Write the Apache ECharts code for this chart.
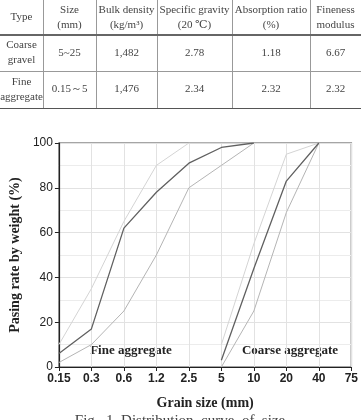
<!DOCTYPE html>
<html>
<head>
<meta charset="utf-8">
<script src="https://cdn.jsdelivr.net/npm/echarts@6/dist/echarts.min.js"></script>
<style>
  html, body { margin: 0; padding: 0; background: #fff; }
  #chart { width: 361px; height: 420px; }
</style>
</head>
<body>
<div id="chart"></div>
<script>
// sieve sizes (mm)
const sizes = ['0.15', '0.3', '0.6', '1.2', '2.5', '5', '10', '20', '40', '75'];

// fine aggregate: lower limit, measured, upper limit
const fineLower = [2, 10, 25, 50, 80, 90, 100, null, null, null];
const fineMeasured = [6, 17, 62, 78, 91, 98, 100, null, null, null];
const fineUpper = [10, 35, 65, 90, 100, 100, 100, null, null, null];

// coarse aggregate: lower limit, measured, upper limit
const coarseLower = [null, null, null, null, null, 0, 25, 69, 100, null];
const coarseMeasured = [null, null, null, null, null, 3, 44, 83, 100, null];
const coarseUpper = [null, null, null, null, null, 10, 55, 95, 100, null];

const yTicks = [0, 20, 40, 60, 80, 100];

// table above the chart
const tableHead = ['Type', 'Size\n(mm)', 'Bulk density\n(kg/m³)', 'Specific gravity\n(20 ℃)', 'Absorption ratio\n(%)', 'Fineness\nmodulus'];
const tableRows = [
  ['Coarse\ngravel', '5~25', '1,482', '2.78', '1.18', '6.67'],
  ['Fine\naggregate', '0.15～5', '1,476', '2.34', '2.32', '2.32']
];

const colX = [0, 43, 96, 157, 232, 310, 361];
const rowY = [0, 35, 71, 108];

const serif = '"Liberation Serif", "DejaVu Serif", serif';
const sans = '"Liberation Sans", Arial, sans-serif';

const chart = echarts.init(document.getElementById('chart'));

const graphics = [];
// table text
[tableHead].concat(tableRows).forEach((row, r) => {
  row.forEach((txt, c) => {
    graphics.push({
      type: 'text',
      x: (colX[c] + colX[c + 1]) / 2,
      y: (rowY[r] + rowY[r + 1]) / 2,
      style: {
        text: txt, fill: '#444', font: '11px ' + serif,
        align: 'center', verticalAlign: 'middle', lineHeight: 15
      }
    });
  });
});
// table lines
for (let c = 1; c < colX.length - 1; c++) {
  graphics.push({ type: 'line', shape: { x1: colX[c] + 0.5, y1: rowY[0], x2: colX[c] + 0.5, y2: rowY[3] }, style: { stroke: '#999', lineWidth: 1 } });
}
graphics.push({ type: 'line', shape: { x1: 0, y1: rowY[1], x2: 361, y2: rowY[1] }, style: { stroke: '#666', lineWidth: 2 } });
graphics.push({ type: 'line', shape: { x1: 0, y1: rowY[2] + 0.5, x2: 361, y2: rowY[2] + 0.5 }, style: { stroke: '#999', lineWidth: 1 } });
graphics.push({ type: 'line', shape: { x1: 0, y1: rowY[3] + 0.5, x2: 361, y2: rowY[3] + 0.5 }, style: { stroke: '#555', lineWidth: 1 } });

// labels in the plot
graphics.push({ type: 'text', x: 131, y: 351, style: { text: 'Fine aggregate', font: 'bold 13px ' + serif, fill: '#222', align: 'center', verticalAlign: 'middle' } });
graphics.push({ type: 'text', x: 290, y: 351, style: { text: 'Coarse aggregate', font: 'bold 13px ' + serif, fill: '#222', align: 'center', verticalAlign: 'middle' } });
// caption (cut off by the bottom edge)
graphics.push({ type: 'text', x: 180, y: 414, style: { text: 'Fig.  1  Distribution  curve  of  size', font: '15px ' + serif, fill: '#444', align: 'center', verticalAlign: 'top' } });

function line(name, data, color, width) {
  return {
    name: name, type: 'line', data: data, showSymbol: false, symbol: 'none',
    connectNulls: false, lineStyle: { color: color, width: width }, z: 3
  };
}

chart.setOption({
  animation: false,
  backgroundColor: '#fff',
  grid: {
    left: 51, right: 6, top: 143, bottom: 53,
    show: true, borderColor: '#888', borderWidth: 1.5
  },
  xAxis: {
    type: 'category',
    data: sizes,
    boundaryGap: false,
    name: 'Grain size (mm)',
    nameLocation: 'middle',
    nameGap: 29,
    nameTextStyle: { fontFamily: serif, fontWeight: 'bold', fontSize: 14, color: '#222' },
    axisLine: { lineStyle: { color: '#222', width: 1.2 } },
    axisTick: { show: true, alignWithLabel: true, length: 4, lineStyle: { color: '#222' } },
    axisLabel: { color: '#222', fontFamily: sans, fontWeight: 'bold', fontSize: 12, margin: 6, interval: 0 },
    splitLine: { show: true, lineStyle: { color: '#e2e2e2', width: 1 } }
  },
  yAxis: {
    type: 'value',
    min: yTicks[0], max: yTicks[yTicks.length - 1], interval: 20,
    name: 'Pasing rate by weight (%)',
    nameLocation: 'middle',
    nameGap: 32,
    nameTextStyle: { fontFamily: serif, fontWeight: 'bold', fontSize: 14, color: '#222' },
    axisLine: { show: true, lineStyle: { color: '#222', width: 1.2 } },
    axisTick: { show: true, length: 4, lineStyle: { color: '#222' } },
    axisLabel: { color: '#222', fontFamily: sans, fontSize: 12, margin: 6 },
    splitLine: { show: true, lineStyle: { color: '#e2e2e2', width: 1 } },
    minorTick: { show: false, splitNumber: 2 },
    minorSplitLine: { show: true, lineStyle: { color: '#ececec', width: 1 } }
  },
  series: [
    line('Fine upper', fineUpper, '#d4d4d4', 1),
    line('Fine lower', fineLower, '#b4b4b4', 1),
    line('Fine measured', fineMeasured, '#606060', 1.3),
    line('Coarse upper', coarseUpper, '#d4d4d4', 1),
    line('Coarse lower', coarseLower, '#b4b4b4', 1),
    line('Coarse measured', coarseMeasured, '#606060', 1.3)
  ],
  graphic: graphics
});
</script>
</body>
</html>
